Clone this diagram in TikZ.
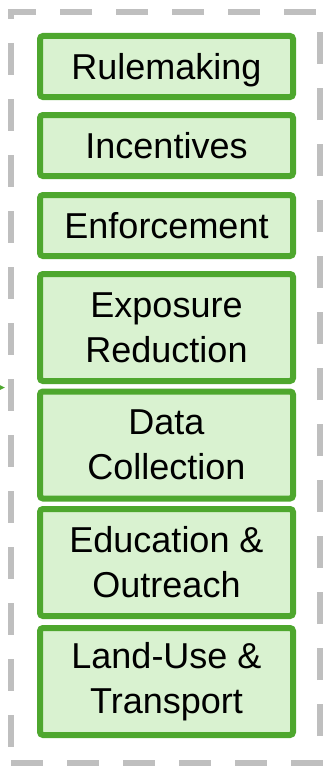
\documentclass[tikz,border=0pt]{standalone}
\usepackage{fontspec}
\setmainfont{Liberation Sans}
\usetikzlibrary{arrows.meta}

\definecolor{boxgreen}{HTML}{4EA72E}
\definecolor{boxfill}{HTML}{D9F2D0}
\definecolor{dashgray}{HTML}{BFBFBF}

\tikzset{
    action/.style={draw=boxgreen, fill=boxfill, line width=6pt, rounded corners=3pt,
        minimum width=253pt, minimum height=61pt, align=center, inner sep=0pt,
        font=\fontsize{36}{45}\selectfont},
    shortaction/.style={action, text height=26pt, text depth=0pt},
    tallaction/.style={action, minimum height=107pt},
    group/.style={draw=dashgray, line width=6pt, dash pattern=on 32pt off 24pt,
        minimum width=309pt, minimum height=751pt, inner sep=0pt},
}

\begin{document}
\begin{tikzpicture}[x=1pt,y=-1pt]

            \clip (0,0) rectangle (328,768);

            \node[group] (measures) at (165.5,387.5) {};

            \node[shortaction] (rule) at (166.5,66.5) {Rulemaking};
            \node[shortaction] (incent) at (166.5,145.5) {Incentives};
            \node[shortaction] (enforce) at (166.5,225.5) {Enforcement};
            \node[tallaction] (expo) at (166.5,327.5) {Exposure\\Reduction};
            \node[tallaction] (data) at (166.5,445) {Data\\Collection};
            \node[tallaction] (edu) at (166.5,562.5) {Education \&\\Outreach};
            \node[tallaction] (land) at (166.5,681.5) {Land-Use \&\\Transport};

            \coordinate (from) at (-40,388);
            \draw[boxgreen, line width=2pt, -{Triangle[length=10pt,width=9pt]}, shorten >=3pt] (from) -- (measures.west);
        \end{tikzpicture}
\end{document}
